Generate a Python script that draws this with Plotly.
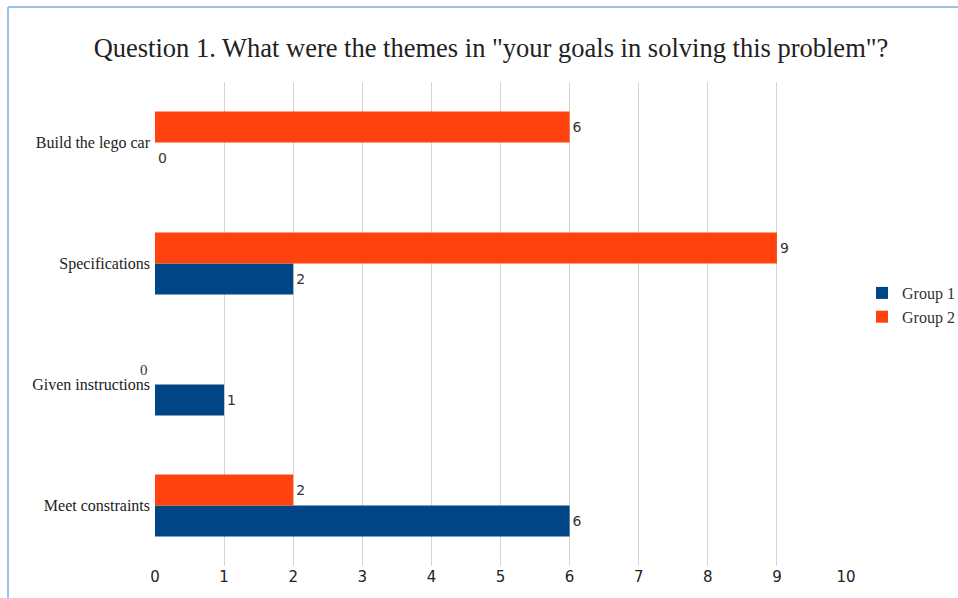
import plotly.graph_objects as go

# Categories listed bottom-to-top as they appear on the axis
categories = ["Meet constraints", "Given instructions", "Specifications", "Build the lego car"]
group1 = [6, 1, 2, 0]
group2 = [2, 0, 9, 6]
x_ticks = list(range(0, 11))

BLUE = "#004586"
ORANGE = "#ff420e"
W, H = 958, 598
L, R, T, B = 155, 112, 82, 32
plot_w = W - L - R
plot_h = H - T - B

# Group 2's zero for "Given instructions" is labelled to the left of the axis
g2_text = [str(v) if not (c == "Given instructions" and v == 0) else "" for c, v in zip(categories, group2)]

label_font = dict(family="DejaVu Sans", size=14, color="#333333")

fig = go.Figure()
fig.add_trace(go.Bar(
    y=categories, x=group1, orientation="h", name="Group 1",
    marker=dict(color=BLUE, line=dict(width=0)),
    text=[str(v) for v in group1], textposition="outside",
    textfont=label_font, cliponaxis=False,
))
fig.add_trace(go.Bar(
    y=categories, x=group2, orientation="h", name="Group 2",
    marker=dict(color=ORANGE, line=dict(width=0)),
    text=g2_text, textposition="outside",
    textfont=label_font, cliponaxis=False,
))

for c, v in zip(categories, group2):
    if c == "Given instructions" and v == 0:
        fig.add_annotation(
            x=0, y=c, text=str(v), showarrow=False,
            xanchor="right", yanchor="middle", xshift=-5, yshift=15,
            font=dict(family="Liberation Serif", size=15, color="#333333"),
        )

# Thin light-blue frame along the top and left edges
fx = lambda px: (px - L) / plot_w
fy = lambda py: (H - B - py) / plot_h
frame = dict(color="#7aaee0", width=1.5)
fig.add_shape(type="line", xref="paper", yref="paper",
              x0=fx(8), x1=fx(958), y0=fy(7), y1=fy(7), line=frame)
fig.add_shape(type="line", xref="paper", yref="paper",
              x0=fx(8), x1=fx(8), y0=fy(7), y1=fy(598), line=frame)

fig.update_layout(
    width=W, height=H,
    margin=dict(l=L, r=R, t=T, b=B, autoexpand=False),
    paper_bgcolor="white", plot_bgcolor="white",
    barmode="group", bargap=0.488, bargroupgap=0,
    title=dict(
        text='Question 1. What were the themes in "your goals in solving this problem"?',
        x=491 / W, xanchor="center", xref="container",
        y=1 - 48 / H, yanchor="middle", yref="container",
        font=dict(family="Liberation Serif", size=26.5, color="#222222"),
    ),
    xaxis=dict(
        range=[0, 10], tickvals=x_ticks, ticktext=[str(t) for t in x_ticks],
        showgrid=True, gridcolor="#d4d4d4", gridwidth=1,
        zeroline=False, showline=False, ticks="",
        tickfont=dict(family="DejaVu Sans", size=15, color="#222222"),
    ),
    yaxis=dict(
        categoryorder="array", categoryarray=categories,
        showgrid=False, zeroline=False, showline=False, ticks="",
        ticklabelstandoff=4,
        tickfont=dict(family="Liberation Serif", size=16, color="#222222"),
    ),
    legend=dict(
        x=fx(862), xanchor="left", y=fy(305), yanchor="middle",
        font=dict(family="Liberation Serif", size=16, color="#333333"),
        bgcolor="rgba(0,0,0,0)", itemwidth=30, tracegroupgap=0,
    ),
    showlegend=True,
)

fig.write_html("out.html")
